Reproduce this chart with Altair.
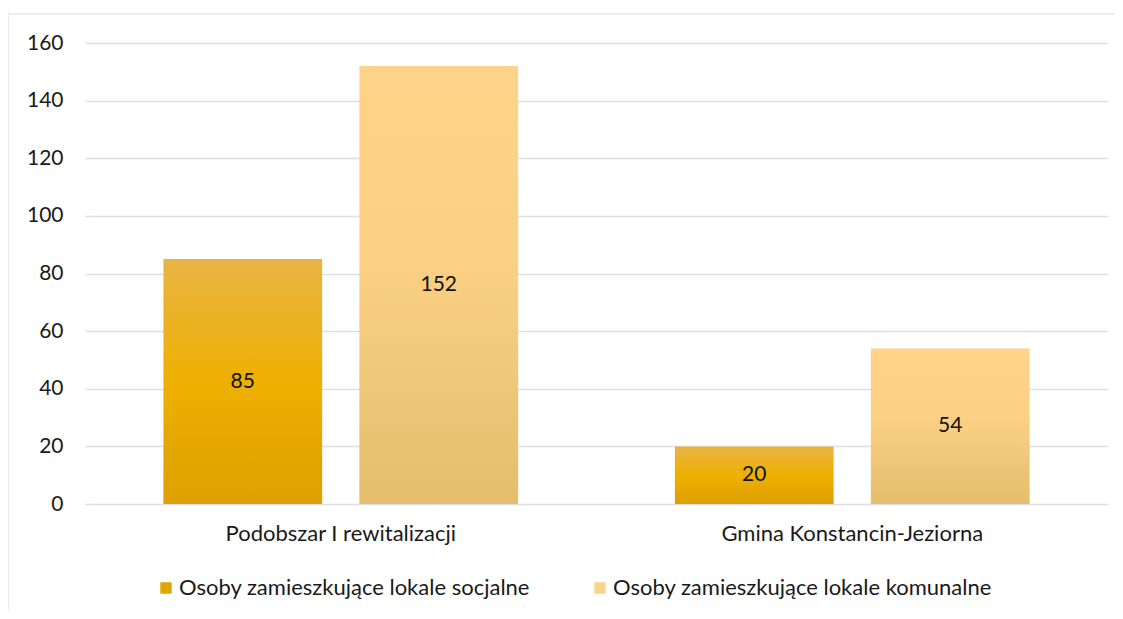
import altair as alt
import pandas as pd

categories = ["Podobszar I rewitalizacji", "Gmina Konstancin-Jeziorna"]
series = ["Osoby zamieszkujące lokale socjalne", "Osoby zamieszkujące lokale komunalne"]
social_values = [85, 20]
communal_values = [152, 54]
y_ticks = [0, 20, 40, 60, 80, 100, 120, 140, 160]

rows = []
for c, v in zip(categories, social_values):
    rows.append({"category": c, "series": series[0], "value": v})
for c, v in zip(categories, communal_values):
    rows.append({"category": c, "series": series[1], "value": v})
df = pd.DataFrame(rows)

FONT = "Lato"
W, H = 1023, 461

x_enc = alt.X("category:N", sort=categories, title=None,
              scale=alt.Scale(paddingInner=0, paddingOuter=0),
              axis=alt.Axis(labelAngle=0, labelFontSize=22, labelColor="#1a1a1a",
                            labelFont=FONT, ticks=False, domain=False, labelPadding=19,
                            grid=False, labelLimit=600))
xo_enc = alt.XOffset("series:N", sort=series, scale=alt.Scale(domain=series, paddingInner=0.19, paddingOuter=0.4))
y_enc = alt.Y("value:Q", title=None,
              scale=alt.Scale(domain=[0, 160]),
              axis=alt.Axis(values=y_ticks, labelFontSize=21, labelColor="#1a1a1a", labelFont=FONT,
                            ticks=False, domain=False, labelPadding=22,
                            gridColor="#DCE0E6", gridWidth=1.5))

grad_social = alt.Gradient(gradient="linear", x1=0, x2=0, y1=0, y2=1, stops=[
    alt.GradientStop(color="#E8B445", offset=0),
    alt.GradientStop(color="#EEB000", offset=0.5),
    alt.GradientStop(color="#DDA000", offset=1)])
grad_comm = alt.Gradient(gradient="linear", x1=0, x2=0, y1=0, y2=1, stops=[
    alt.GradientStop(color="#FFD48A", offset=0),
    alt.GradientStop(color="#FBD083", offset=0.45),
    alt.GradientStop(color="#E5BD6C", offset=1)])

base = alt.Chart(df)

frame = alt.Chart(pd.DataFrame({"k": [0]})).mark_rect(
    fillOpacity=0, stroke="#D9D9D9", strokeWidth=1).encode(
    x=alt.value(-77), x2=alt.value(1060), y=alt.value(-29), y2=alt.value(620))

bars_s = base.transform_filter(alt.datum.series == series[0]).mark_bar(color=grad_social).encode(
    x=x_enc, xOffset=xo_enc, y=y_enc)
bars_c = base.transform_filter(alt.datum.series == series[1]).mark_bar(color=grad_comm).encode(
    x=x_enc, xOffset=xo_enc, y=y_enc)

legend_layer = base.mark_bar(opacity=0).encode(
    x=x_enc, xOffset=xo_enc, y=y_enc,
    color=alt.Color("series:N", sort=series,
                    scale=alt.Scale(domain=series, range=["#E2A400", "#FAD386"]),
                    legend=alt.Legend(title=None, orient="none", direction="horizontal",
                                      legendX=70, legendY=534, symbolType="square",
                                      symbolSize=130, symbolStrokeWidth=0, labelFontSize=22,
                                      labelFont=FONT, labelColor="#1a1a1a", columnPadding=58,
                                      labelOffset=2, labelLimit=600, symbolOpacity=1)))

labels = base.transform_calculate(mid="datum.value / 2").mark_text(
    fontSize=21, font=FONT, color="#111111").encode(
    x=x_enc, xOffset=xo_enc, y=alt.Y("mid:Q"), text=alt.Text("value:Q"))

chart = alt.layer(frame, bars_s, bars_c, legend_layer, labels).properties(
    width=W, height=H,
    background="white",
    autosize=alt.AutoSizeParams(type="none"),
    padding={"left": 77, "top": 35, "right": 7, "bottom": 107},
).configure_view(stroke="transparent", strokeWidth=0)

chart.save("out.html", embed_options={"renderer": "svg", "actions": False})
